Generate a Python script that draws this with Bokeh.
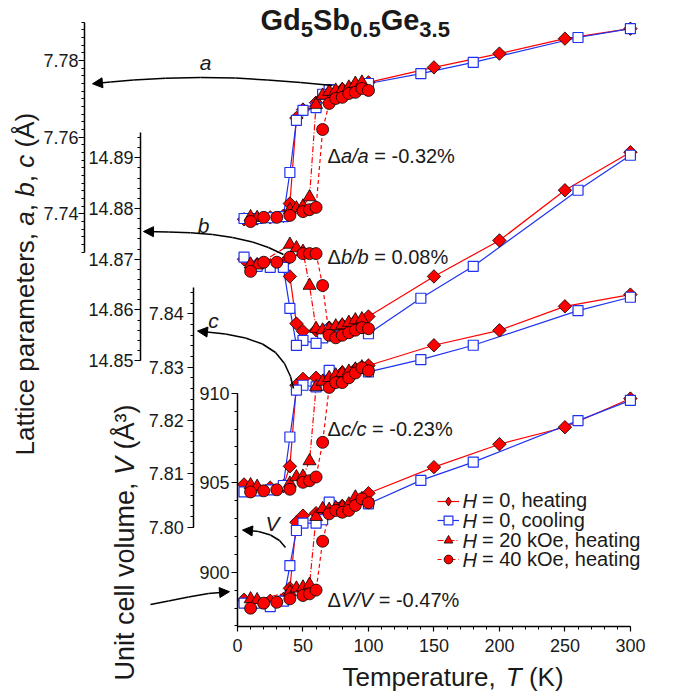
import numpy as np
from bokeh.plotting import figure
from bokeh.models import (Range1d, LinearAxis, SingleIntervalTicker, PrintfTickFormatter,
                          Label, Arrow, NormalHead, ColumnDataSource, Legend, LegendItem)
from bokeh.embed import file_html
from bokeh.resources import INLINE

# ------------------------------------------------------------------ data
T_HEAT0 = [5, 15, 25, 35, 40, 45, 50, 60, 70, 80, 90, 100, 150, 200, 250, 300]
A_HEAT0 = [7.7386, 7.7388, 7.7391, 7.7395, 7.7427, 7.7650, 7.7672, 7.7690, 7.7712, 7.7725, 7.7735, 7.7743, 7.7782, 7.7818, 7.7857, 7.7883]
B_HEAT0 = [14.8700, 14.8690, 14.8688, 14.8692, 14.8666, 14.8573, 14.8558, 14.8560, 14.8565, 14.8570, 14.8578, 14.8587, 14.8666, 14.8737, 14.8836, 14.8911]
C_HEAT0 = [7.8080, 7.8072, 7.8074, 7.8077, 7.8114, 7.8266, 7.8278, 7.8280, 7.8285, 7.8290, 7.8296, 7.8303, 7.8341, 7.8369, 7.8414, 7.8436]
V_HEAT0 = [898.46, 898.35, 898.40, 898.50, 899.10, 902.79, 903.16, 903.30, 903.50, 903.70, 903.95, 904.41, 905.87, 907.15, 908.10, 909.70]

T_COOL0 = [300, 260, 180, 140, 100, 70, 65, 60, 50, 45, 40, 35, 25, 15, 5]
A_COOL0 = [7.7883, 7.7860, 7.7795, 7.7766, 7.7740, 7.7724, 7.7712, 7.7677, 7.7670, 7.7644, 7.7508, 7.7393, 7.7390, 7.7388, 7.7388]
B_COOL0 = [14.8905, 14.8836, 14.8686, 14.8623, 14.8553, 14.8560, 14.8545, 14.8534, 14.8540, 14.8530, 14.8603, 14.8684, 14.8684, 14.8686, 14.8704]
C_COOL0 = [7.8431, 7.8406, 7.8341, 7.8314, 7.8291, 7.8294, 7.8266, 7.8263, 7.8266, 7.8257, 7.8169, 7.8078, 7.8070, 7.8068, 7.8066]
V_COOL0 = [909.60, 908.47, 906.15, 905.13, 903.82, 903.91, 902.93, 902.74, 902.74, 902.33, 900.37, 898.38, 898.08, 898.27, 898.27]

T_H20 = [10, 15, 40, 45, 50, 55, 60, 65, 70, 75, 80, 85, 90, 95]
A_H20 = [7.7392, 7.7390, 7.7410, 7.7415, 7.7420, 7.7444, 7.7685, 7.7709, 7.7719, 7.7722, 7.7724, 7.7730, 7.7740, 7.7743]
B_H20 = [14.8690, 14.8688, 14.8729, 14.8722, 14.8715, 14.8648, 14.8563, 14.8560, 14.8563, 14.8568, 14.8570, 14.8575, 14.8580, 14.8582]
C_H20 = [7.8079, 7.8076, 7.8082, 7.8094, 7.8095, 7.8124, 7.8263, 7.8273, 7.8280, 7.8285, 7.8289, 7.8292, 7.8296, 7.8300]
V_H20 = [898.50, 898.45, 898.90, 899.10, 899.16, 899.31, 903.10, 903.54, 903.50, 903.60, 903.65, 903.80, 904.19, 904.10]

T_H40 = [10, 20, 30, 40, 50, 55, 60, 65, 70, 75, 80, 85, 90, 95, 100]
A_H40 = [7.7380, 7.7391, 7.7391, 7.7396, 7.7406, 7.7411, 7.7417, 7.7620, 7.7688, 7.7701, 7.7704, 7.7714, 7.7717, 7.7727, 7.7722]
B_H40 = [14.8676, 14.8694, 14.8694, 14.8704, 14.8711, 14.8711, 14.8711, 14.8648, 14.8550, 14.8545, 14.8550, 14.8555, 14.8560, 14.8565, 14.8563]
C_H40 = [7.8066, 7.8068, 7.8070, 7.8071, 7.8084, 7.8087, 7.8094, 7.8159, 7.8262, 7.8271, 7.8271, 7.8280, 7.8289, 7.8299, 7.8293]
V_H40 = [897.99, 898.27, 898.32, 898.51, 898.70, 898.79, 899.00, 901.73, 903.26, 903.45, 903.35, 903.45, 903.73, 904.10, 903.88]

# legend texts: italic "H" followed by the rest
SERIES_LABELS = ["= 0, heating", "= 0, cooling", "= 20 kOe, heating", "= 40 kOe, heating"]
DELTA_TEXT = {"a": "= -0.32%", "b": "= 0.08%", "c": "= -0.23%", "V": "= -0.47%"}

# ------------------------------------------------------------------ layout
FONT = "Liberation Sans"
INK = "#1a1a1a"
RED = "#FF0000"
BLUE = "#1E32F0"
W, H = 679, 696
X0PX = 237.0                 # pixel of T = 0
XS = 392.9 / 300.0           # px per K
# each vertical scale: (reference value, its pixel row, px per unit)
SCALES = {"V": (900.0, 571.7, 17.9), "a": (7.78, 60.0, 3835.0),
          "b": (14.89, 157.3, 5070.0), "c": (7.84, 313.3, 5333.0)}


def vrange(key):
    ref, row, s = SCALES[key]
    return Range1d(ref - (H - row) / s, ref + row / s)


def dx(xp):
    return (xp - X0PX) / XS


def dy(yp):
    ref, row, s = SCALES["V"]
    return ref - (yp - row) / s


p = figure(width=W, height=H, x_range=Range1d(dx(0), dx(W)), y_range=vrange("V"),
           output_backend="svg", toolbar_location=None, title=None, min_border=0)
p.extra_y_ranges = {"a": vrange("a"), "b": vrange("b"), "c": vrange("c")}
p.outline_line_color = None
p.grid.visible = False
p.background_fill_color = "white"
p.border_fill_color = "white"


def style_axis(ax, standoff):
    ax.axis_line_width = 1.5
    ax.axis_line_color = "black"
    ax.major_tick_out = 6
    ax.major_tick_in = 0
    ax.minor_tick_out = 3
    ax.minor_tick_in = 0
    ax.major_tick_line_color = "black"
    ax.minor_tick_line_color = "black"
    ax.major_tick_line_width = 1.2
    ax.minor_tick_line_width = 1
    ax.major_label_text_font = FONT
    ax.major_label_text_font_size = "18px"
    ax.major_label_text_color = INK
    ax.major_label_standoff = standoff


# volume axis at T = 0
vax = p.yaxis[0]
vax.fixed_location = 0
vax.bounds = (dy(626), 910)
vax.ticker = SingleIntervalTicker(interval=5, num_minor_ticks=5)
vax.formatter = PrintfTickFormatter(format="%d")
style_axis(vax, 2)

for name, xpix, bnds, step, nminor, stdoff in [("c", 193.3, (7.80, 7.845), 0.01, 5, 4),
                                               ("b", 140.0, (14.85, 14.895), 0.01, 5, 1),
                                               ("a", 84.0, (7.73, 7.79), 0.02, 10, 0)]:
    ax = LinearAxis(y_range_name=name, bounds=bnds, fixed_location=dx(xpix),
                    ticker=SingleIntervalTicker(interval=step, num_minor_ticks=nminor),
                    formatter=PrintfTickFormatter(format="%.2f"))
    style_axis(ax, stdoff)
    p.add_layout(ax, "left")

xax = p.xaxis[0]
xax.fixed_location = dy(626)
xax.bounds = (0, 300)
xax.ticker = SingleIntervalTicker(interval=50, num_minor_ticks=5)
xax.formatter = PrintfTickFormatter(format="%d")
style_axis(xax, 7)
xax.major_tick_out = 5

# ------------------------------------------------------------------ data renderers
series = [
    dict(T=T_HEAT0, a=A_HEAT0, b=B_HEAT0, c=C_HEAT0, V=V_HEAT0, color=RED, dash="solid",
         marker="square", angle=np.pi / 4, size=9.5, fill=RED, mline="black"),
    dict(T=T_COOL0, a=A_COOL0, b=B_COOL0, c=C_COOL0, V=V_COOL0, color=BLUE, dash="solid",
         marker="square", angle=0, size=10, fill="white", mline=BLUE),
    dict(T=T_H20, a=A_H20, b=B_H20, c=C_H20, V=V_H20, color=RED, dash="6 2 1 2",
         marker="triangle", angle=0, size=13, fill=RED, mline="black"),
    dict(T=T_H40, a=A_H40, b=B_H40, c=C_H40, V=V_H40, color=RED, dash="4 3",
         marker="circle", angle=0, size=12, fill=RED, mline="black"),
]

legend_parts = []
for s in series:
    for key in ["a", "b", "c", "V"]:
        rn = "default" if key == "V" else key
        lr = p.line(s["T"], s[key], line_color=s["color"], line_width=1.2,
                    line_dash=s["dash"], y_range_name=rn)
        if key == "V":
            legend_parts.append([lr])
for i, s in enumerate(series):
    for key in ["a", "b", "c", "V"]:
        rn = "default" if key == "V" else key
        sr = p.scatter(s["T"], s[key], marker=s["marker"], size=s["size"], angle=s["angle"],
                       fill_color=s["fill"], line_color=s["mline"],
                       line_width=1.2 if i == 1 else 0.8, y_range_name=rn)
        if key == "V":
            legend_parts[i].append(sr)
# legend sample for the heating diamonds (hidden renderer, same data)
legend_parts[0][1] = p.scatter(T_HEAT0, V_HEAT0, marker="diamond", size=14, fill_color=RED,
                               line_color="black", line_width=0.8, visible=False)

# ------------------------------------------------------------------ annotations
def lab(xp, yp, text, size, style="normal", align="left", angle=0.0, xoff=0):
    p.add_layout(Label(x=dx(xp), y=dy(yp), text=text, x_offset=xoff,
                       text_font=FONT, text_font_size=f"{size}px", text_font_style=style,
                       text_color=INK, text_align=align, text_baseline="middle", angle=angle))


# title Gd5Sb0.5Ge3.5  (Arial-metric widths, em units); y = visual centre of the caps
xp = 260.0
for t, em, big in [("Gd", 1.389, True), ("5", 0.556, False), ("Sb", 1.278, True),
                   ("0.5", 1.39, False), ("Ge", 1.334, True), ("3.5", 1.39, False)]:
    sz = 29 if big else 22
    lab(xp, 19.5 if big else 29, t, sz, style="bold")
    xp += em * sz

# x-axis title
lab(342, 676, "Temperature,", 26)
lab(505.3, 676, "T", 26, style="italic")
lab(528.4, 676, "(K)", 26)

# rotated y titles (pieces stacked upward)
for t, yp, st in [("Lattice parameters,", 455, "normal"), ("a", 225.2, "italic"), (",", 210.7, "normal"),
                  ("b", 196.2, "italic"), (",", 181.7, "normal"), ("c", 167.2, "italic"),
                  ("(\u00c5)", 147.0, "normal")]:
    lab(24.5, yp, t, 26, style=st, angle=np.pi / 2)
for t, yp, st in [("Unit cell volume,", 680, "normal"), ("V", 474.4, "italic"),
                  ("(\u00c5\u00b3)", 448.9, "normal")]:
    lab(124, yp, t, 27, style=st, angle=np.pi / 2)

# parameter tags
lab(205, 62, "a", 21, style="italic", align="center")
lab(203, 225, "b", 21, style="italic", align="center")
lab(213, 320, "c", 21, style="italic", align="center")
lab(272, 523, "V", 21, style="italic", align="center")

# relative changes
for yp, key, wk in [(155, "a", 27.8), (256, "b", 27.8), (428, "c", 25.6), (599, "V", 32.2)]:
    lab(327, yp, "\u0394", 20)
    lab(327, yp, f"{key}/{key}", 20, style="italic", xoff=13.4)
    lab(327, yp, DELTA_TEXT[key], 20, xoff=13.4 + wk + 5.6)

# curved arrows (polyline body + arrow head on last segment)
curves = [
    [(332, 85), (300, 82), (267, 79.5), (235, 77.5), (200, 77), (165, 77.8), (133, 79.5), (110, 81.5), (92, 83.3)],
    [(283, 254), (268, 247), (252, 241.5), (232, 237), (212, 234), (190, 232.2), (168, 231.4), (143, 231)],
    [(293, 388), (290, 376), (284, 363), (275, 352), (262, 343.5), (245, 337.5), (225, 333.5), (197, 330.5)],
    [(285, 547), (279, 540), (270, 534.5), (258, 531), (242, 529.5)],
    [(150, 604), (168, 600.5), (188, 596.5), (208, 593), (229, 591.2)],
]
x0s, y0s, x1s, y1s = [], [], [], []
for c in curves:
    for (xa, ya), (xb, yb) in zip(c[:-2], c[1:-1]):
        x0s.append(dx(xa)); y0s.append(dy(ya)); x1s.append(dx(xb)); y1s.append(dy(yb))
p.add_layout(Arrow(end=None, x_start="x0", y_start="y0", x_end="x1", y_end="y1",
                   source=ColumnDataSource(dict(x0=x0s, y0=y0s, x1=x1s, y1=y1s)),
                   line_color="black", line_width=1.5))
hx0, hy0, hx1, hy1 = [], [], [], []
for c in curves:
    (xa, ya), (xb, yb) = c[-2], c[-1]
    hx0.append(dx(xa)); hy0.append(dy(ya)); hx1.append(dx(xb)); hy1.append(dy(yb))
p.add_layout(Arrow(end=NormalHead(size=10, fill_color="black", line_color="black", line_width=1),
                   x_start="x0", y_start="y0", x_end="x1", y_end="y1",
                   source=ColumnDataSource(dict(x0=hx0, y0=hy0, x1=hx1, y1=hy1)),
                   line_color="black", line_width=1.5))

# legend: one box per row so the row pitch follows the reference;
# the italic "H" sits in the gap left by label_standoff
H_GAP = (0.722 + 0.278) * 20
for (yc, label_text, rends) in zip([500.7, 520.0, 540.0, 559.3], SERIES_LABELS, legend_parts):
    leg = Legend(items=[LegendItem(label=label_text, renderers=rends)],
                 location=(437, H - yc - 12), padding=0, margin=0, spacing=0,
                 glyph_width=22, glyph_height=24, label_standoff=int(round(3 + H_GAP)), label_height=14,
                 label_text_font=FONT, label_text_font_size="20px", label_text_color=INK,
                 border_line_color=None, background_fill_alpha=0,
                 inactive_fill_alpha=0, click_policy="none")
    p.add_layout(leg)
    lab(462, yc, "H", 20, style="italic")

open("out.html", "w").write(file_html(p, INLINE))
